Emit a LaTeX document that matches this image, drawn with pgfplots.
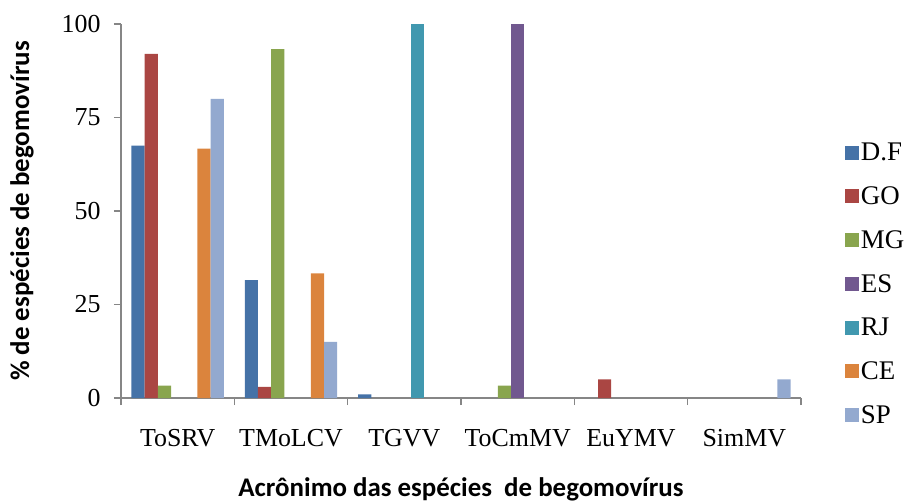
\documentclass[border=0pt]{standalone}
\usepackage{fontspec}
\setmainfont{Liberation Serif}
\newfontfamily\carlito{Carlito}
\usepackage{pgfplots}
\pgfplotsset{compat=1.18}

\definecolor{cDF}{HTML}{4572A7}
\definecolor{cGO}{HTML}{AA4643}
\definecolor{cMG}{HTML}{89A54E}
\definecolor{cES}{HTML}{71588F}
\definecolor{cRJ}{HTML}{4198AF}
\definecolor{cCE}{HTML}{DB843D}
\definecolor{cSP}{HTML}{93A9CF}
\definecolor{axisgray}{HTML}{868686}

\begin{document}
\begin{tikzpicture}
\begin{axis}[
    scale only axis,
    width=680bp, height=374bp,
    ybar=0pt, bar width=13.2bp,
    xmin=0.5, xmax=6.5,
    ymin=0, ymax=100,
    axis x line=bottom, axis y line=left,
    axis line style={-, axisgray, line width=1.2bp},
    xtick={0.5,1.5,...,6.5}, xticklabels={},
    extra x ticks={1,2,3,4,5,6},
    extra x tick labels={ToSRV,TMoLCV,TGVV,ToCmMV,EuYMV,SimMV},
    extra x tick style={major tick length=0pt, xticklabel style={yshift=-28bp}},
    ytick={0,25,50,75,100},
    yticklabel style={xshift=-10bp},
    tick align=outside,
    major tick length=7bp,
    tick style={axisgray, line width=1.2bp},
    /pgf/number format/assume math mode=true,
    tick label style={font=\fontsize{26}{28}\selectfont},
    xlabel={\carlito\bfseries\fontsize{27}{30}\selectfont Acrônimo das espécies\ \ de begomovírus},
    ylabel={\carlito\bfseries\fontsize{27}{30}\selectfont \% de espécies de begomovírus},
    xlabel style={at={(rel axis cs:0.5,-0.244)}, anchor=center},
    ylabel style={at={(rel axis cs:-0.1456,0.5)}, anchor=center},
    legend style={draw=none, at={(rel axis cs:1.06,0.305)}, anchor=west,
        font=\fontsize{27}{29}\selectfont, row sep=20.5bp,
        /tikz/every even column/.append style={column sep=4bp}},
    legend cell align=left,
    legend image code/.code={\fill[#1] (0bp,-7bp) rectangle (14bp,7bp);},
]
\addplot[fill=cDF, draw=none] coordinates {(1,67.5)(2,31.5)(3,1)};
\addplot[fill=cGO, draw=none] coordinates {(1,92)(2,3)(5,5)};
\addplot[fill=cMG, draw=none] coordinates {(1,3.3)(2,93.3)(4,3.3)};
\addplot[fill=cES, draw=none] coordinates {(4,100)};
\addplot[fill=cRJ, draw=none] coordinates {(3,100)};
\addplot[fill=cCE, draw=none] coordinates {(1,66.7)(2,33.3)};
\addplot[fill=cSP, draw=none] coordinates {(1,80)(2,15)(6,5)};
\legend{D.F,GO,MG,ES,RJ,CE,SP}
\end{axis}
\pgfresetboundingbox
\useasboundingbox (current axis.south west) ++(-121bp,-104bp) rectangle ++(908bp,502bp);
\end{tikzpicture}
\end{document}
